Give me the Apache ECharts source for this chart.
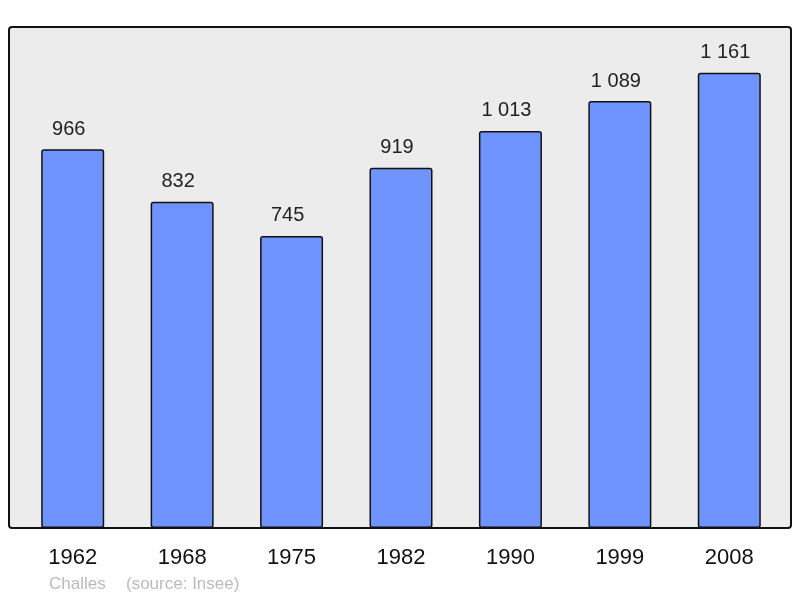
<!DOCTYPE html>
<html><head><meta charset="utf-8">
<script src="https://cdn.jsdelivr.net/npm/echarts@6/dist/echarts.min.js"></script>
<style>html,body{margin:0;padding:0;background:#fff}#c{width:800px;height:598px}</style>
</head><body><div id="c"></div>
<script>
var years = ['1962','1968','1975','1982','1990','1999','2008'];
var population = [966, 832, 745, 919, 1013, 1089, 1161];
var placeName = 'Challes';
var sourceText = '(source: Insee)';

function fmt(v){ return String(v).replace(/\B(?=(\d{3})+(?!\d))/g, ' '); }
var FONT = '"Liberation Sans", Arial, sans-serif';

var chart = echarts.init(document.getElementById('c'), null, {renderer:'canvas'});
chart.setOption({
  animation: false,
  graphic: [
    {type:'rect', shape:{x:9, y:27, width:782, height:501, r:3}, style:{fill:'#ececec', stroke:'#111', lineWidth:2}, z:-10},
    {type:'text', x:49, y:584, style:{text:placeName, fill:'#bbbbbb', font:'17px ' + FONT, textVerticalAlign:'middle'}},
    {type:'text', x:126, y:584, style:{text:sourceText, fill:'#bbbbbb', font:'17px ' + FONT, textVerticalAlign:'middle'}}
  ],
  grid: {left:18, right:16, top:27, bottom:70},
  xAxis: {
    type:'category', data: years,
    axisLine:{show:false}, axisTick:{show:false},
    axisLabel:{color:'#111', fontSize:22, margin:19, fontFamily:FONT}
  },
  yAxis: {type:'value', min:0, max:1278, show:false, splitLine:{show:false}},
  series: [{
    type:'bar', data: population, barWidth:63,
    itemStyle:{color:'#7094ff', borderColor:'#111', borderWidth:1.5, borderRadius:2},
    label:{show:true, position:'top', distance:10, offset:[-4,0], color:'#222', fontSize:20,
      fontFamily:FONT,
      formatter:function(p){return fmt(p.value);}}
  }]
});
</script></body></html>
